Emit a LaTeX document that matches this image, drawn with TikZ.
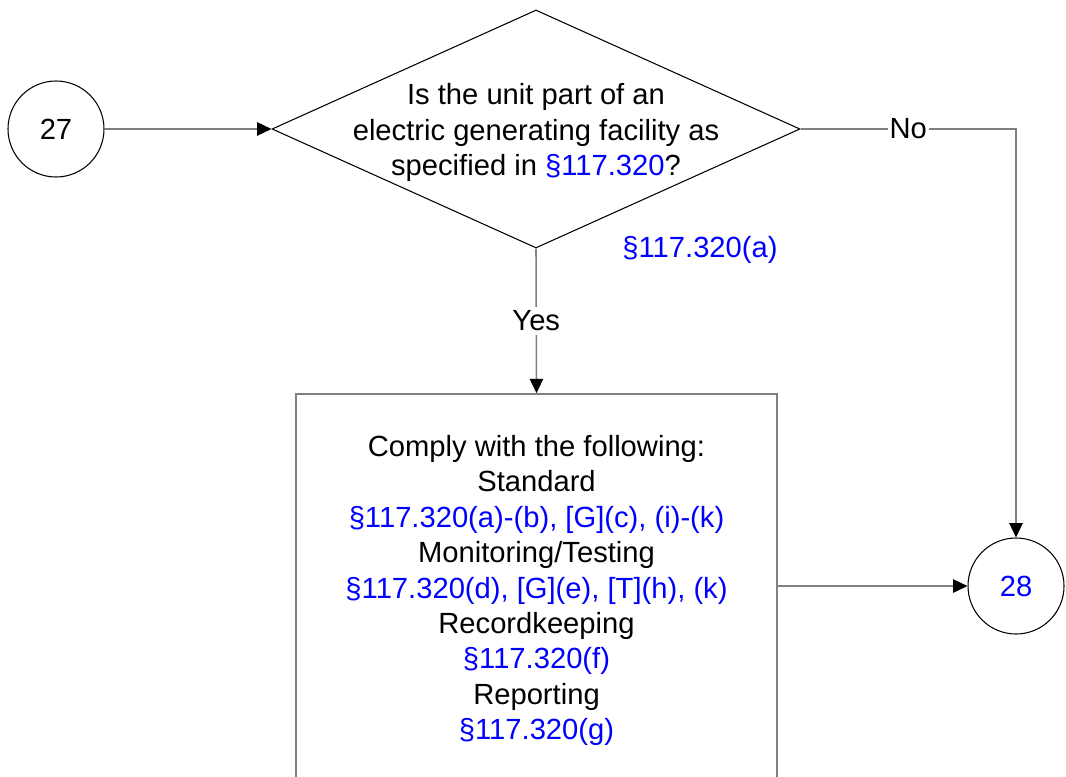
\documentclass[tikz,border=0pt]{standalone}
\usepackage{fontspec}
\setmainfont{Liberation Sans}
\usepackage{tikz}
\usetikzlibrary{arrows.meta}
\usetikzlibrary{shapes.geometric}

\definecolor{refblue}{RGB}{0,0,255}
\definecolor{linegray}{RGB}{128,128,128}
\newcommand{\sref}[1]{\textcolor{refblue}{#1}}

\begin{document}
\begin{tikzpicture}[
    every node/.style = {font=\fontsize{8.3}{10.07}\selectfont},
    connector/.style = {circle,draw,line width=0.3pt,minimum size=0.96cm,inner sep=0pt},
    decision/.style = {diamond,draw,line width=0.3pt,minimum width=5.28cm,minimum height=2.38cm,inner sep=0pt},
    action/.style = {rectangle,draw=linegray,line width=0.45pt,minimum width=4.81cm,minimum height=3.86cm,inner sep=0pt},
    flow/.style = {draw=linegray,line width=0.45pt,-{Triangle[length=4.1pt,width=3.8pt,black]}}
  ]

    \useasboundingbox (0,0) rectangle (10.66,7.76);

    \node (c27) at (0.56,6.47) [connector] {27};
    \node (q) at (5.36,6.47) [decision] {};
    \node (qtext) at ([yshift=-0.035cm]q.center) [align=center] {Is the unit part of an\\electric generating facility as\\specified in \sref{§117.320}?};
    \node (qref) at (7.00,5.26) {\sref{§117.320(a)}};

    \node (box) at (5.365,1.89) [action] {};
    % text sits a little below the box centre
    \node (boxtext) at ([yshift=-0.035cm]box.center) [align=center]
      {Comply with the following:\\Standard\\
       \sref{§117.320(a)-(b), [G](c), (i)-(k)}\\Monitoring/Testing\\
       \sref{§117.320(d), [G](e), [T](h), (k)}\\Recordkeeping\\
       \sref{§117.320(f)}\\Reporting\\
       \sref{§117.320(g)}};

    \node (c28) at (10.16,1.90) [connector] {\sref{28}};

    \draw [flow] (c27) -- (q.west);
    \draw [flow] (q.south) -- node[fill=white,inner sep=1pt] {Yes} (box.north);
    \draw [flow] (q.east) -| node[pos=0.25,fill=white,inner sep=0.5pt] {No} (c28.north);
    \draw [flow] (box.east |- c28.west) -- (c28.west);

\end{tikzpicture}
\end{document}
